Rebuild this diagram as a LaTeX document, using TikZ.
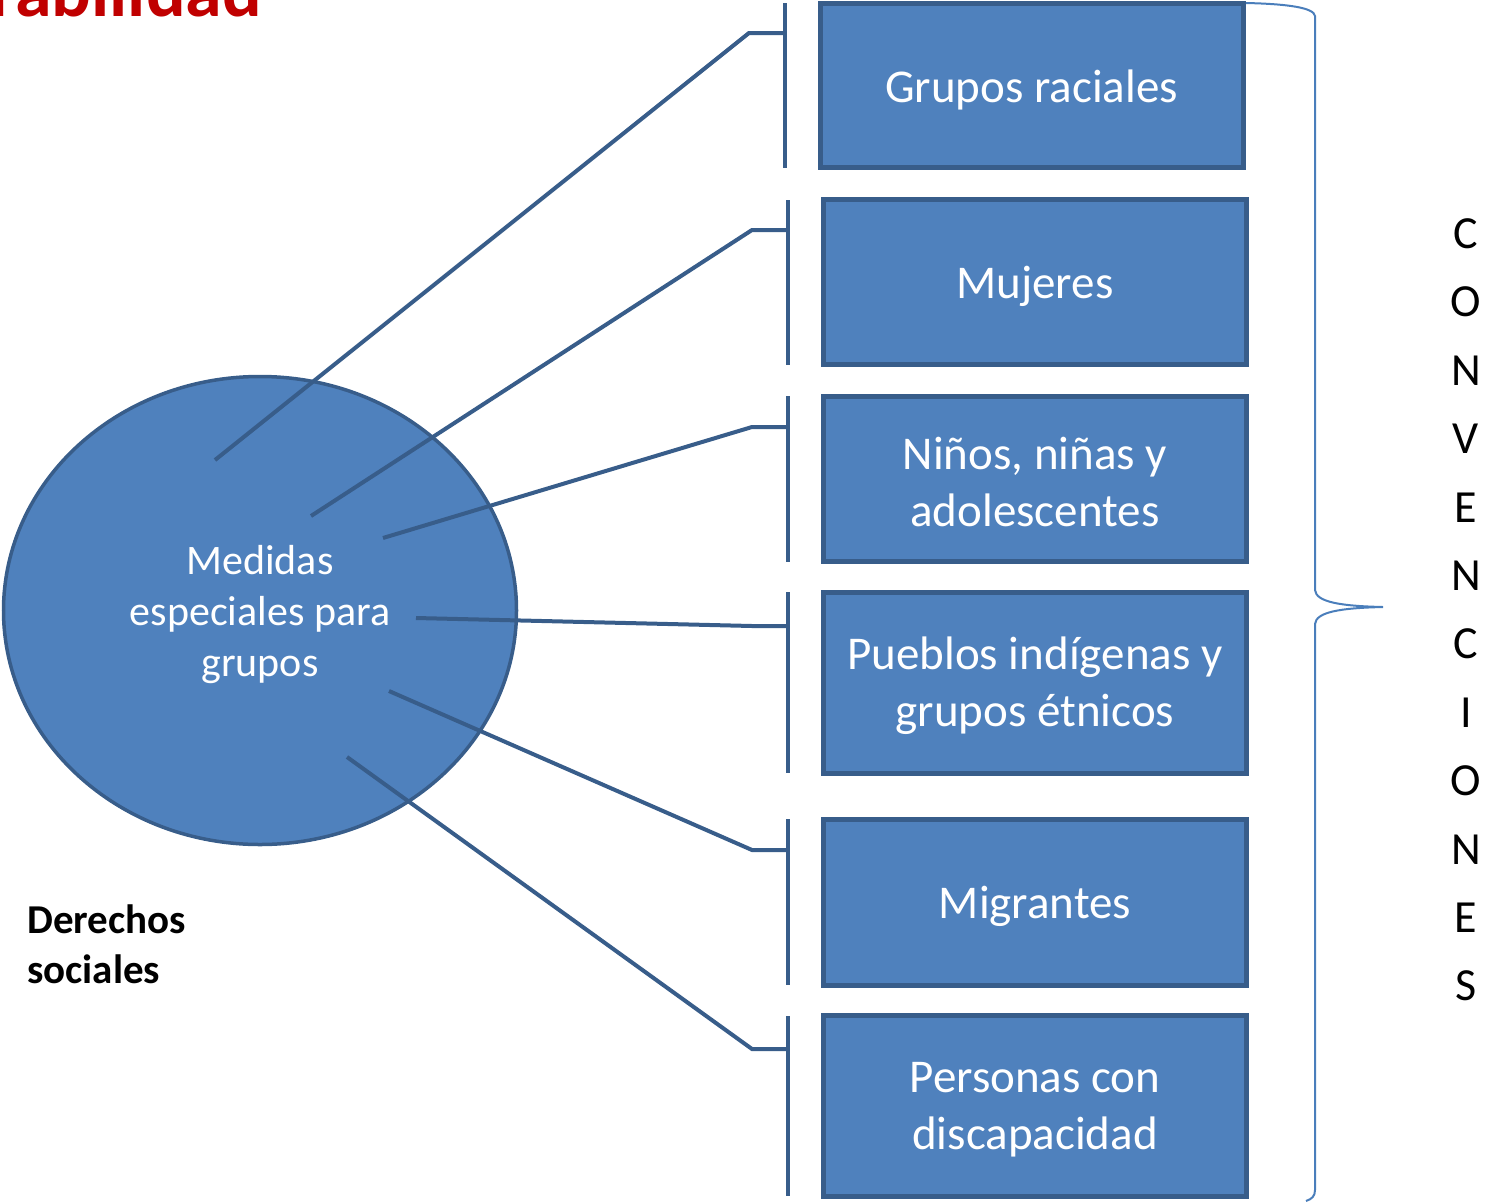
\documentclass[tikz,border=0pt]{standalone}
\usepackage{fontspec}
\setmainfont{Carlito}
\usetikzlibrary{shapes.geometric}
\definecolor{boxfill}{HTML}{4F81BD}
\definecolor{boxline}{HTML}{385D8A}
\definecolor{bracecol}{HTML}{4A7EBB}
\definecolor{titlered}{HTML}{C00000}
\tikzset{
  grp/.style={draw=boxline, fill=boxfill, line width=5pt, minimum width=423pt, inner sep=0pt},
  grptxt/.style={text=white, align=center, inner sep=0pt, font=\fontsize{47}{57}\selectfont},
  conn/.style={draw=boxline, line width=4pt, line join=miter},
  tick/.style={draw=boxline, line width=4pt},
  bracel/.style={draw=bracecol, line width=2pt},
}
\begin{document}
\begin{tikzpicture}[x=1pt,y=-1pt]
\useasboundingbox (0,0) rectangle (1492,1203);
% title fragment
\node[anchor=base east, inner sep=0pt, text=titlered, font=\fontsize{74}{80}\selectfont\bfseries] (title) at (262,16.5) {rabilidad};
% ellipse
\node[ellipse, draw=boxline, fill=boxfill, line width=3.5pt, minimum width=513pt, minimum height=468pt, inner sep=0pt] (ell) at (260,610.5) {};
\node[text=white, align=center, inner sep=0pt, font=\fontsize{42}{51}\selectfont] (elltxt) at (260,615) {Medidas\\especiales para\\grupos};
% boxes
\node[grp, minimum height=164pt] (b1) at (1031.5,85.5) {};
\node[grp, minimum height=165pt] (b2) at (1035,282) {};
\node[grp, minimum height=165pt] (b3) at (1035,479) {};
\node[grp, minimum height=181pt] (b4) at (1035,683) {};
\node[grp, minimum height=166pt] (b5) at (1035,902.5) {};
\node[grp, minimum height=181pt] (b6) at (1035,1106) {};
\node[grptxt] (l1) at ([yshift=-4pt]b1.center) {Grupos raciales};
\node[grptxt] (l2) at ([yshift=-4pt]b2.center) {Mujeres};
\node[grptxt] (l3) at ([yshift=-3pt]b3.center) {Niños, niñas y\\adolescentes};
\node[grptxt] (l4) at ([yshift=-3pt]b4.center) {Pueblos indígenas y\\grupos étnicos};
\node[grptxt] (l5) at ([yshift=-4pt]b5.center) {Migrantes};
\node[grptxt] (l6) at ([yshift=-4pt]b6.center) {Personas con\\discapacidad};
% connector coordinates
\coordinate (s1) at (215,460);  \coordinate (k1) at (749,33);   \coordinate (t1) at (785,33);
\coordinate (u1) at (785,3);    \coordinate (w1) at (785,168);
\coordinate (s2) at (311,516);  \coordinate (k2) at (752,230);  \coordinate (t2) at (788,230);
\coordinate (u2) at (788,200);  \coordinate (w2) at (788,365);
\coordinate (s3) at (383,538);  \coordinate (k3) at (752,427);  \coordinate (t3) at (788,427);
\coordinate (u3) at (788,396);  \coordinate (w3) at (788,562);
\coordinate (s4) at (416,618);  \coordinate (k4) at (752,626);  \coordinate (t4) at (788,626);
\coordinate (u4) at (788,592);  \coordinate (w4) at (788,773);
\coordinate (s5) at (389,691);  \coordinate (k5) at (752,850);  \coordinate (t5) at (788,850);
\coordinate (u5) at (788,819);  \coordinate (w5) at (788,985);
\coordinate (s6) at (347,757);  \coordinate (k6) at (752,1049); \coordinate (t6) at (788,1049);
\coordinate (u6) at (788,1016); \coordinate (w6) at (788,1196);
\foreach \i in {1,...,6}{
  \draw[conn] (s\i) -- (k\i) -- (t\i);
  \draw[tick] (u\i) -- (w\i);
}
% brace
\coordinate (br0) at (1246,3);
\coordinate (brtip) at (1383,607);
\coordinate (brend) at (1306,1201);
\draw[bracel] (br0) .. controls (1290,4) and (1314,8) .. (1315,16) -- (1315,590)
  .. controls (1316,602) and (1340,606) .. (brtip)
  .. controls (1340,608) and (1316,612) .. (1315,624) -- (1315,1190)
  .. controls (1315,1196) and (1312,1199) .. (brend);
% vertical word
\node[align=center, inner sep=0pt, font=\fontsize{46}{68.4}\selectfont] (conv) at (1466,610) {C\\O\\N\\V\\E\\N\\C\\I\\O\\N\\E\\S};
% derechos sociales
\node[anchor=base west, align=left, inner sep=0pt, font=\fontsize{41}{50}\selectfont\bfseries] (der) at (27,983) {Derechos\\sociales};
\end{tikzpicture}
\end{document}
